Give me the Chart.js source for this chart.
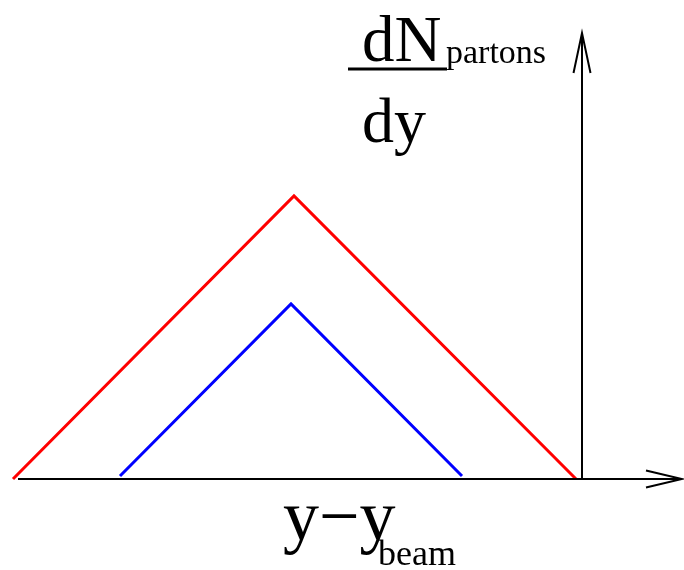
<!DOCTYPE html>
<html>
<head>
<meta charset="utf-8">
<script src="https://cdn.jsdelivr.net/npm/chart.js@4/dist/chart.umd.min.js"></script>
<style>
  html, body { margin: 0; padding: 0; background: #fff; }
  #wrap { width: 684px; height: 570px; position: relative; }
</style>
</head>
<body>
<div id="wrap"><canvas id="chart"></canvas></div>
<script>
// rapidity axis: y - y_beam, vertical axis sits at 0
const redX = [-5.69, -2.88, -0.06];
const redY = [0, 2.83, 0];
const blueX = [-4.62, -2.91, -1.20];
const blueY = [0.03, 1.75, 0.03];

// axes with open arrowheads
const hAxisX = [-5.64, 1.00];
const hAxisY = [0, 0];
const hArrowX = [0.64, 1.00, 0.64];
const hArrowY = [0.085, 0, -0.085];
const vAxisX = [0, 0];
const vAxisY = [0, 4.46];
const vArrowX = [-0.085, 0, 0.085];
const vArrowY = [4.06, 4.46, 4.06];

const pts = (xs, ys) => xs.map((x, i) => ({ x: x, y: ys[i] }));

function lineSet(xs, ys, color, width) {
  return {
    data: pts(xs, ys),
    borderColor: color,
    borderWidth: width,
    pointRadius: 0,
    fill: false,
    tension: 0,
    borderJoinStyle: "miter",
    borderCapStyle: "butt"
  };
}

// axis titles, drawn at data positions
const titlePlugin = {
  id: "titles",
  afterDatasetsDraw(chart) {
    const { ctx, scales: { x, y } } = chart;
    const px = v => x.getPixelForValue(v);
    const py = v => y.getPixelForValue(v);
    ctx.save();
    ctx.fillStyle = "#000";
    ctx.textBaseline = "alphabetic";
    ctx.textAlign = "left";
    ctx.font = "65px 'Liberation Serif'";
    ctx.fillText("dN", px(-2.20), py(4.18));
    ctx.font = "64px 'Liberation Serif'";
    ctx.fillText("dy", px(-2.20), py(3.37));
    ctx.font = "34px 'Liberation Serif'";
    ctx.fillText("partons", px(-1.36), py(4.16));
    // fraction bar
    ctx.strokeStyle = "#000";
    ctx.lineWidth = 3;
    ctx.beginPath();
    ctx.moveTo(px(-2.34), py(4.10));
    ctx.lineTo(px(-1.35), py(4.10));
    ctx.stroke();
    ctx.font = "72px 'Liberation Serif'";
    ctx.fillText("y\u2212y", px(-2.99), py(-0.61));
    ctx.font = "36px 'Liberation Serif'";
    ctx.fillText("beam", px(-2.04), py(-0.86));
    ctx.restore();
  }
};

new Chart(document.getElementById("chart"), {
  type: "line",
  data: {
    datasets: [
      lineSet(hAxisX, hAxisY, "#000", 2),
      lineSet(hArrowX, hArrowY, "#000", 2),
      lineSet(vAxisX, vAxisY, "#000", 2),
      lineSet(vArrowX, vArrowY, "#000", 2),
      lineSet(redX, redY, "#ff0000", 3),
      lineSet(blueX, blueY, "#0000ff", 3)
    ]
  },
  options: {
    responsive: true,
    maintainAspectRatio: false,
    animation: false,
    layout: { padding: 0 },
    plugins: { legend: { display: false }, tooltip: { enabled: false } },
    scales: {
      x: { type: "linear", min: -5.82, max: 1.02, display: false },
      y: { type: "linear", min: -0.91, max: 4.79, display: false }
    }
  },
  plugins: [titlePlugin]
});
</script>
</body>
</html>
